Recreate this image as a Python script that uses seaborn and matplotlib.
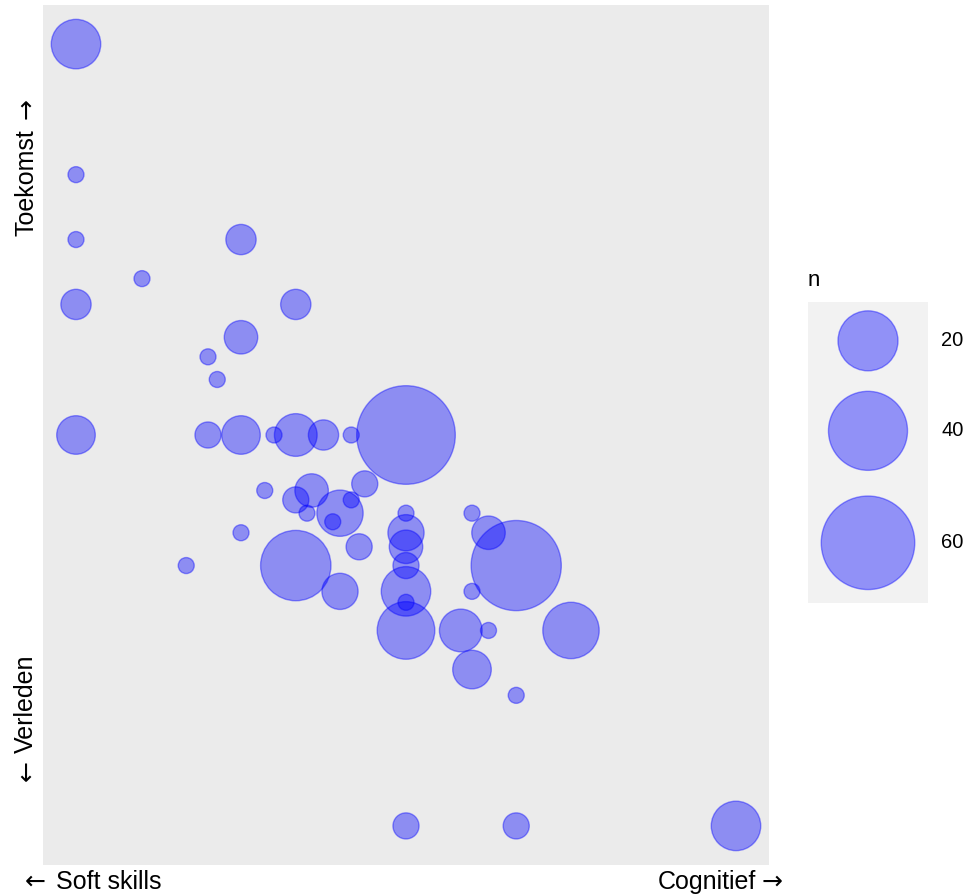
import matplotlib
matplotlib.use("Agg")
import matplotlib.pyplot as plt
import seaborn as sns
import numpy as np
import pandas as pd

# soft skills (0) -> cognitief (1)
x_score = [0, 0, 0, 0.1, 0, 0.25, 0.333, 0.25, 0.2, 0.214,
           0, 0.2, 0.25, 0.3, 0.333, 0.375, 0.417, 0.5,
           0.286, 0.333, 0.357, 0.35, 0.4, 0.389, 0.417, 0.4375, 0.429,
           0.25, 0.167, 0.333, 0.4,
           0.5, 0.5, 0.5, 0.5, 0.5, 0.5, 0.5,
           0.6, 0.625, 0.667, 0.6, 0.583, 0.625, 0.6, 0.667, 0.75,
           0.5, 0.667, 1]
# verleden (0) -> toekomst (1)
y_score = [1, 0.833, 0.75, 0.7, 0.667, 0.75, 0.667, 0.625, 0.6, 0.571,
           0.5, 0.5, 0.5, 0.5, 0.5, 0.5, 0.5, 0.5,
           0.429, 0.417, 0.429, 0.4, 0.4, 0.389, 0.417, 0.4375, 0.357,
           0.375, 0.333, 0.333, 0.3,
           0.4, 0.375, 0.357, 0.333, 0.3, 0.286, 0.25,
           0.4, 0.375, 0.333, 0.3, 0.25, 0.25, 0.2, 0.167, 0.25,
           0, 0, 0]
n_count = [12, 1, 1, 1, 3, 3, 3, 4, 1, 1,
           6, 2, 6, 1, 8, 3, 1, 68,
           1, 2, 4, 1, 10, 1, 1, 2, 2,
           1, 1, 30, 5,
           1, 5, 4, 2, 12, 1, 18,
           1, 4, 55, 1, 8, 1, 6, 1, 17,
           2, 2, 12]

legend_n = [20, 40, 60]
legend_labels = ["20", "40", "60"]

DPI = 100
W, H = 977, 896
FONT = ["Liberation Sans", "DejaVu Sans"]
ARROW_FONT = ["DejaVu Sans"]
AXIS_FS = 18


def marker_area(n):
    # ggplot-like area scale: radius in px grows with sqrt(n)
    r_px = 8 + 5.047 * np.sqrt(n - 1)
    d_pt = 2 * r_px * 72 / DPI
    return d_pt ** 2


def fx(px):
    return px / W


def fy(py):
    return 1 - py / H


df = pd.DataFrame({"x": x_score, "y": y_score, "n": n_count})
size_map = {v: marker_area(v) for v in sorted(set(n_count))}

sns.set_theme(style="white")
plt.rcParams["font.family"] = FONT
plt.rcParams["text.color"] = "black"

fig = plt.figure(figsize=(W / DPI, H / DPI), dpi=DPI)
ax = fig.add_axes([fx(43), 31 / H, 726 / W, 860 / H])
ax.set_facecolor("#EBEBEB")

sns.scatterplot(data=df, x="x", y="y", size="n", sizes=size_map,
                color="blue", alpha=0.4, edgecolor="blue", linewidth=1.0,
                legend=False, ax=ax, zorder=3)

ax.set_xlim(-0.05, 1.05)
ax.set_ylim(-0.05, 1.05)
ax.set_xticks([])
ax.set_yticks([])
ax.set_xlabel("")
ax.set_ylabel("")
for sp in ax.spines.values():
    sp.set_visible(False)

# axis end labels (arrow glyphs from DejaVu, words in Liberation Sans)
base = fy(889)
fig.text(fx(25), base, "\u2190", ha="left", va="baseline", fontsize=AXIS_FS, family=ARROW_FONT)
fig.text(fx(56), base, "Soft skills", ha="left", va="baseline", fontsize=AXIS_FS, family=FONT)
fig.text(fx(783), base, "\u2192", ha="right", va="baseline", fontsize=AXIS_FS, family=ARROW_FONT)
fig.text(fx(756), base, "Cognitief", ha="right", va="baseline", fontsize=AXIS_FS, family=FONT)

vb = fx(33)
fig.text(vb, fy(236), "Toekomst", rotation=90, rotation_mode="anchor",
         ha="left", va="baseline", fontsize=AXIS_FS, family=FONT)
fig.text(vb, fy(119), "\u2192", rotation=90, rotation_mode="anchor",
         ha="left", va="baseline", fontsize=AXIS_FS, family=ARROW_FONT)
fig.text(vb, fy(781), "\u2190", rotation=90, rotation_mode="anchor",
         ha="left", va="baseline", fontsize=AXIS_FS, family=ARROW_FONT)
fig.text(vb, fy(753), "Verleden", rotation=90, rotation_mode="anchor",
         ha="left", va="baseline", fontsize=AXIS_FS, family=FONT)

# legend drawn as a small keyed panel
lax = fig.add_axes([fx(808), 293 / H, 120 / W, 301 / H])
lax.set_facecolor("#F2F2F2")
leg_df = pd.DataFrame({"x": [0.5] * 3, "y": [0.871, 0.572, 0.2], "n": legend_n})
sns.scatterplot(data=leg_df, x="x", y="y", size="n",
                sizes={v: marker_area(v) for v in legend_n},
                color="blue", alpha=0.4, edgecolor="blue", linewidth=1.0,
                legend=False, ax=lax, zorder=3, clip_on=False)
lax.set_xlim(0, 1)
lax.set_ylim(0, 1)
lax.set_xticks([])
lax.set_yticks([])
lax.set_xlabel("")
lax.set_ylabel("")
for sp in lax.spines.values():
    sp.set_visible(False)
for yy, lab in zip(leg_df["y"], legend_labels):
    lax.text(1.11, yy, lab, ha="left", va="center", fontsize=14.5,
             family=FONT, transform=lax.transAxes)
fig.text(fx(808), fy(280), "n", ha="left", va="center", fontsize=16, family=FONT)

fig.savefig("out.png", dpi=DPI)
